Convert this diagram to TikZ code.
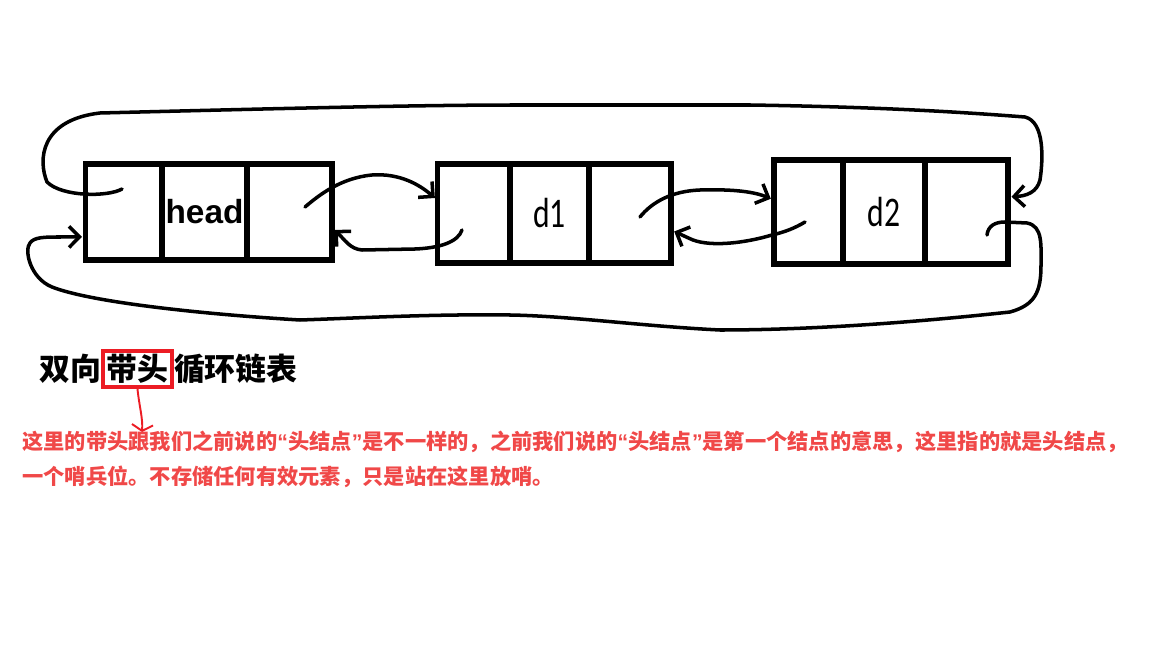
\documentclass[tikz,border=0pt]{standalone}
\usepackage{fontspec}
\usepackage{xcolor}
\usepackage{tikz}
\usetikzlibrary{arrows.meta,positioning}
\newfontfamily\cjk{Noto Sans CJK SC}
\newfontfamily\headfont{Liberation Sans}
\newfontfamily\datafont{Carlito}
\definecolor{paintred}{RGB}{236,28,36}
\definecolor{notered}{RGB}{240,72,72}
\newcommand\quoted[1]{{\headfont “}#1{\headfont ”}}

\begin{document}
\begin{tikzpicture}[x=0.02cm,y=-0.02cm,
  cell/.style={draw,line width=3.1pt,outer sep=0pt,inner sep=0pt},
  link/.style={line width=2pt,line cap=round,line join=round,shorten >=2pt,
    -{Straight Barb[length=6pt,width=12pt]}},
  datatext/.style={font=\datafont\fontsize{24}{26}\selectfont},
  title/.style={font=\cjk\bfseries\fontsize{17.6}{20}\selectfont,inner sep=0pt},
  note/.style={font=\cjk\bfseries\fontsize{12.1}{14}\selectfont,text=notered,inner sep=0pt,anchor=west}]
  \useasboundingbox (0,0) rectangle (1152,648);

  \node[cell,minimum width=1.7cm,minimum height=1.92cm,font=\headfont\bfseries\fontsize{19}{20}\selectfont] (headdata) at (204.5,212) {head};
  \node[cell,minimum width=1.53cm,minimum height=1.92cm,left=0pt of headdata] (headprev) {};
  \node[cell,minimum width=1.7cm,minimum height=1.92cm,right=0pt of headdata] (headnext) {};

  \node[cell,datatext,minimum width=1.58cm,minimum height=1.98cm] (d1data) at (549.5,213.5) {\scalebox{.75}[1]{d1}};
  \node[cell,minimum width=1.45cm,minimum height=1.98cm,left=0pt of d1data] (d1prev) {};
  \node[cell,minimum width=1.64cm,minimum height=1.98cm,right=0pt of d1data] (d1next) {};

  \node[cell,datatext,minimum width=1.64cm,minimum height=2.08cm] (d2data) at (884,212) {\scalebox{.75}[1]{d2}};
  \node[cell,minimum width=1.38cm,minimum height=2.08cm,left=0pt of d2data] (d2prev) {};
  \node[cell,minimum width=1.66cm,minimum height=2.08cm,right=0pt of d2data] (d2next) {};

  \coordinate (hp) at (122,189);
  \coordinate (dn) at (987,235);
  \coordinate (hn) at (305,207);
  \coordinate (dp1) at (462,230);
  \coordinate (dn1) at (640,217);
  \coordinate (dp2) at (805,222);

  \draw[link] (hp) .. controls (108,197) and (62,197) .. (47,182)
    .. controls (38,160) and (40,120) .. (100,113)
    .. controls (300,108) and (420,105) .. (520,105) -- (750,105)
    .. controls (880,107) and (960,112) .. (1025,117)
    .. controls (1045,122) and (1043,160) .. (1040,180)
    .. controls (1037,192) and (1027,196) .. (d2next.20);
  \draw[link] (dn) .. controls (988,226) and (995,222) .. (1005,222) -- (1027,223)
    .. controls (1043,226) and (1041,245) .. (1041,265)
    .. controls (1041,292) and (1035,305) .. (1010,312)
    .. controls (900,324) and (800,330) .. (720,330)
    .. controls (640,326) and (570,316) .. (510,315)
    .. controls (430,314) and (360,318) .. (300,320)
    .. controls (200,314) and (90,302) .. (52,287)
    .. controls (30,278) and (24,250) .. (30,243)
    .. controls (34,237) and (45,237) .. (60,237) -- (headprev.213);
  \draw[link] (hn) .. controls (318,196) and (340,178) .. (372,175)
    .. controls (400,173) and (420,185) .. (d1prev.160);
  \draw[link] (dp1) .. controls (458,242) and (440,248) .. (415,249) -- (362,250)
    .. controls (350,249) and (345,240) .. (headnext.340);
  \draw[link] (dn1) .. controls (652,202) and (672,191) .. (700,190)
    .. controls (735,189) and (755,192) .. (d2prev.161);
  \draw[link] (dp2) .. controls (795,228) and (785,232) .. (772,235)
    .. controls (745,243) and (712,247) .. (693,240)
    .. controls (686,237) and (680,234) .. (d1next.338);

  \node[title,draw=paintred,line width=2pt,inner sep=2pt] (tag) at (137.5,369) {带头};
  \node[title,left=0pt of tag] (dir) {双向};
  \node[title,right=0pt of tag] (kind) {循环链表};

  \coordinate (mark) at (142,432);
  \draw[paintred,line width=1.1pt,line cap=round,-{Straight Barb[length=3.5pt,width=12pt]}]
    (tag.south) .. controls (139,405) and (143,418) .. (mark);

  \node[note] (note1) at (22,442)
    {这里的带头跟我们之前说的\quoted{头结点}是不一样的，之前我们说的\quoted{头结点}是第一个结点的意思，这里指的就是头结点，};
  \node[note] (note2) at (22,477) {一个哨兵位。不存储任何有效元素，只是站在这里放哨。};
\end{tikzpicture}
\end{document}
